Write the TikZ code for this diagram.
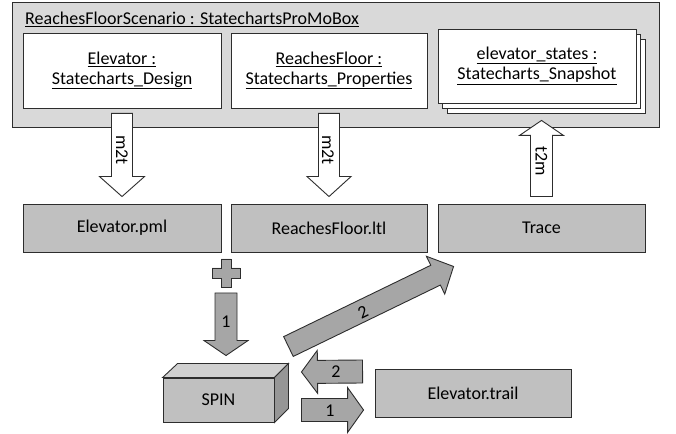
\documentclass[tikz,border=0pt]{standalone}
\usepackage{fontspec}
\setmainfont{Carlito}
\usetikzlibrary{calc, positioning}

\definecolor{linegray}{RGB}{45,45,45}
\definecolor{outergray}{RGB}{217,217,217}
\definecolor{boxgray}{RGB}{192,192,192}
\definecolor{arrowgray}{RGB}{166,166,166}
\definecolor{topgray}{RGB}{208,208,208}
\definecolor{sidegray}{RGB}{150,150,150}

% block arrow: [options]{tail}{tip}{half shaft}{half head}{head length}
\newcommand{\fatarrow}[6][]{%
  \coordinate (fa-h) at ($(#3)!#6!(#2)$);
  \draw[blockarrow,#1] ($(#2)!#4!90:(#3)$) -- ($(fa-h)!#4!90:(#3)$)
    -- ($(fa-h)!#5!90:(#3)$) -- (#3) -- ($(fa-h)!#5!-90:(#3)$)
    -- ($(fa-h)!#4!-90:(#3)$) -- ($(#2)!#4!-90:(#3)$) -- cycle;}

\begin{document}
\begin{tikzpicture}[x=1pt, y=1pt,
    font=\fontsize{18}{20}\selectfont,
    outerbox/.style={draw=linegray, fill=outergray, line width=0.9pt},
    objbox/.style={draw=linegray, fill=white, line width=0.9pt, align=center,
      minimum height=74pt, inner sep=0pt},
    filebox/.style={draw=linegray, fill=boxgray, line width=0.9pt,
      minimum height=48pt, inner sep=0pt},
    blockarrow/.style={draw=linegray, fill=arrowgray, line width=0.9pt},
    hollow/.style={blockarrow, fill=white},
    arrowlabel/.style={inner sep=0pt}]
  \useasboundingbox (0,0) rectangle (676,433);

  % the ProMoBox
  \node[outerbox, minimum width=647pt, minimum height=125pt] (scenario) at (335.5,368.5) {};
  \node[anchor=base west, inner sep=0pt] (title) at (25,408)
    {\underline{ReachesFloorScenario : StatechartsProMoBox}};

  \node[objbox, minimum width=198pt, minimum height=75pt] (design) at (122,362.5)
    {\underline{Elevator :}\\ \underline{Statecharts\_Design}};
  \node[objbox, minimum width=196pt, minimum height=75pt] (props) at (329,362.5)
    {\underline{ReachesFloor :}\\ \underline{Statecharts\_Properties}};

  \node[objbox, minimum width=198pt] (snap3) at (546,357) {}; % back copies
  \node[objbox, minimum width=198pt] (snap2) at (541.5,362) {};
  \node[objbox, minimum width=198pt] (snap) at (537,367)
    {\underline{elevator\_states :}\\ \underline{Statecharts\_Snapshot}};

  % generated files
  \node[filebox, minimum width=198pt] (pml) at (122,205) {Elevator.pml};
  \node[filebox, minimum width=196pt] (ltl) at (329,205) {ReachesFloor.ltl};
  \node[filebox, minimum width=207pt] (trace) at (541.5,205) {Trace};
  \node[filebox, minimum width=196pt] (trail) at (473,40) {Elevator.trail};

  % SPIN box
  \node[filebox, minimum width=111pt, minimum height=44pt] (spin) at (218.5,33) {SPIN};
  \draw[blockarrow, fill=topgray] (spin.north west) -- ++(15,14)
    -- ($(spin.north east)+(14,14)$) -- (spin.north east) -- cycle;
  \draw[blockarrow, fill=sidegray] (spin.north east) -- ++(14,14)
    -- ($(spin.south east)+(14,14)$) -- (spin.south east) -- cycle;

  % transformations
  \fatarrow[hollow]{$(design.south)+(0,-5)$}{$(pml.north)+(0,7)$}{10.5pt}{22.5pt}{20pt}
  \fatarrow[hollow]{$(props.south)+(0,-5)$}{$(ltl.north)+(0,7)$}{10.5pt}{22pt}{20pt}
  \fatarrow[hollow]{$(trace.north)+(0,7)$}{$(trace.north |- snap3.south)+(0,-7)$}{11pt}{22pt}{15pt}
  \node[arrowlabel, rotate=-90] (m2ta) at (122,283) {m2t};
  \node[arrowlabel, rotate=-90] (m2tb) at (328,283) {m2t};
  \node[arrowlabel, rotate=-90] (t2m) at (541.5,272) {t2m};

  % plus
  \coordinate (plus) at (226,160);
  \draw[blockarrow] (plus) ++(-5,14) -- ++(10,0) -- ++(0,-9) -- ++(9,0) -- ++(0,-10)
    -- ++(-9,0) -- ++(0,-9) -- ++(-10,0) -- ++(0,9) -- ++(-9,0) -- ++(0,10)
    -- ++(9,0) -- cycle;

  % SPIN steps
  \fatarrow{$(plus)+(0,-20)$}{$(spin.north)+(7.5,22)$}{11pt}{22pt}{15pt}
  \fatarrow{$(trail.west)+(-12,21.5)$}{$(spin.east)+(27,28)$}{11.5pt}{21.5pt}{16pt}
  \fatarrow{$(spin.east)+(27,-10)$}{$(trail.west)+(-11,-17)$}{11.5pt}{22.5pt}{16pt}
  \fatarrow{$(spin.north east)+(14,31)$}{$(trace.south west)+(16,-14)$}{11pt}{21pt}{20pt}
  \node[arrowlabel] (one) at (226,111) {1};
  \node[arrowlabel] (two) at (336,61) {2};
  \node[arrowlabel] (oneb) at (330,22) {1};
  \node[arrowlabel, rotate=26] (twob) at (363,121) {2};
\end{tikzpicture}
\end{document}
